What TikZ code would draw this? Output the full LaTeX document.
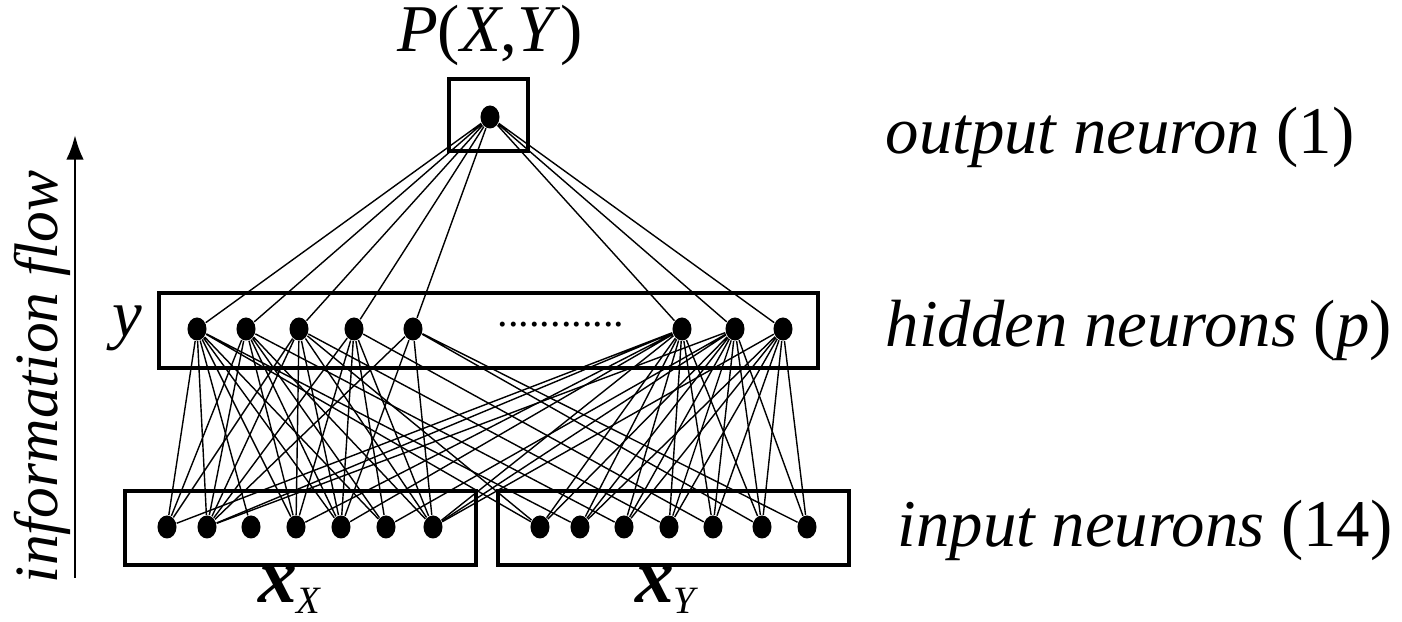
\documentclass[tikz,border=0pt]{standalone}
\usepackage{fontspec}
\setmainfont{Liberation Serif}
\usepackage{tikz}
\usetikzlibrary{arrows.meta,shapes.geometric}
\tikzset{
  neuron/.style ={ellipse, fill=black, inner sep=0pt, minimum width=0.19cm, minimum height=0.23cm},
  layerbox/.style={draw=black, line width=1.3pt},
  conn/.style   ={draw=black, line width=0.4pt},
  lab/.style    ={font=\fontsize{19}{22}\selectfont, inner sep=0pt},
  flowarrow/.style={draw=black, line width=0.8pt, -{Latex[length=7pt,width=5pt]}},
}

\begin{document}
\begin{tikzpicture}[x=0.01cm,y=-0.01cm]
  \useasboundingbox (0,0) rectangle (1402,622);
  % layer boxes
  \draw[layerbox] (449,79) rectangle (528,151);
  \draw[layerbox] (159,293) rectangle (818,368);
  \draw[layerbox] (125,491) rectangle (476,565);
  \draw[layerbox] (498,491) rectangle (849,565);
  % output neuron
  \node[neuron] (out) at (490,117) {};
  % hidden neurons
  \node[neuron] (h1) at (197,329) {};
  \node[neuron] (h2) at (246,329) {};
  \node[neuron] (h3) at (299,329) {};
  \node[neuron] (h4) at (354,329) {};
  \node[neuron] (h5) at (413,329) {};
  \node[neuron] (h6) at (682,329) {};
  \node[neuron] (h7) at (735,329) {};
  \node[neuron] (h8) at (783,329) {};
  \node[font=\fontsize{12}{14}\selectfont, inner sep=0pt] (hdots) at (561,325) {............};
  % input neurons
  \node[neuron] (x1) at (167,527) {};
  \node[neuron] (x2) at (207,527) {};
  \node[neuron] (x3) at (251,527) {};
  \node[neuron] (x4) at (296,527) {};
  \node[neuron] (x5) at (341,527) {};
  \node[neuron] (x6) at (386,527) {};
  \node[neuron] (x7) at (433,527) {};
  \node[neuron] (x8) at (540,527) {};
  \node[neuron] (x9) at (580,527) {};
  \node[neuron] (x10) at (624,527) {};
  \node[neuron] (x11) at (669,527) {};
  \node[neuron] (x12) at (713,527) {};
  \node[neuron] (x13) at (762,527) {};
  \node[neuron] (x14) at (807,527) {};
  % output to hidden
  \draw[conn] (out) -- (h1) (out) -- (h2) (out) -- (h3) (out) -- (h4)
              (out) -- (h5) (out) -- (h6) (out) -- (h7) (out) -- (h8);
  % hidden to input
  \draw[conn] (h1) -- (x1) (h1) -- (x2) (h1) -- (x3) (h1) -- (x4) (h1) -- (x5) (h1) -- (x6) (h1) -- (x8) (h1) -- (x9);
  \draw[conn] (h2) -- (x1) (h2) -- (x2) (h2) -- (x4) (h2) -- (x5) (h2) -- (x6) (h2) -- (x7) (h2) -- (x10);
  \draw[conn] (h3) -- (x1) (h3) -- (x2) (h3) -- (x4) (h3) -- (x5) (h3) -- (x7) (h3) -- (x8) (h3) -- (x11);
  \draw[conn] (h4) -- (x2) (h4) -- (x4) (h4) -- (x5) (h4) -- (x6) (h4) -- (x7) (h4) -- (x12);
  \draw[conn] (h5) -- (x2) (h5) -- (x5) (h5) -- (x7) (h5) -- (x13) (h5) -- (x14);
  \draw[conn] (h6) -- (x1) (h6) -- (x2) (h6) -- (x4) (h6) -- (x5) (h6) -- (x7) (h6) -- (x8) (h6) -- (x9)
              (h6) -- (x10) (h6) -- (x11) (h6) -- (x12) (h6) -- (x13);
  \draw[conn] (h7) -- (x2) (h7) -- (x6) (h7) -- (x7) (h7) -- (x8) (h7) -- (x9) (h7) -- (x10) (h7) -- (x11)
              (h7) -- (x12) (h7) -- (x13) (h7) -- (x14);
  \draw[conn] (h8) -- (x7) (h8) -- (x9) (h8) -- (x10) (h8) -- (x11) (h8) -- (x12) (h8) -- (x13) (h8) -- (x14);
  % labels
  \node[lab] (ptop) at (490,35) {\textit{P}(\textit{X},\textit{Y})};
  \node[lab] (ylab) at (127,328) {\textit{y}};
  \node[lab] (xx) at (290,590) {\fontsize{22}{26}\selectfont\textbf{\textit{x}}\raisebox{-0.3ex}{\fontsize{11}{13}\selectfont\textit{X}}};
  \node[lab] (xy) at (667,590) {\fontsize{22}{26}\selectfont\textbf{\textit{x}}\raisebox{-0.3ex}{\fontsize{11}{13}\selectfont\textit{Y}}};
  \node[lab,anchor=west] (outlab) at (885,137) {\textit{output neuron} (1)};
  \node[lab,anchor=west] (hidlab) at (885,330) {\textit{hidden neurons} (\textit{p})};
  \node[lab,anchor=west] (inlab) at (897,530) {\textit{input neurons} (14)};
  % information flow
  \coordinate (flowbot) at (75,578);
  \coordinate (flowtop) at (75,135);
  \draw[flowarrow] (flowbot) -- (flowtop);
  \node[lab,rotate=90,font=\fontsize{17.5}{20}\selectfont] (flowlab) at (42,377) {\textit{information flow}};
\end{tikzpicture}
\end{document}
